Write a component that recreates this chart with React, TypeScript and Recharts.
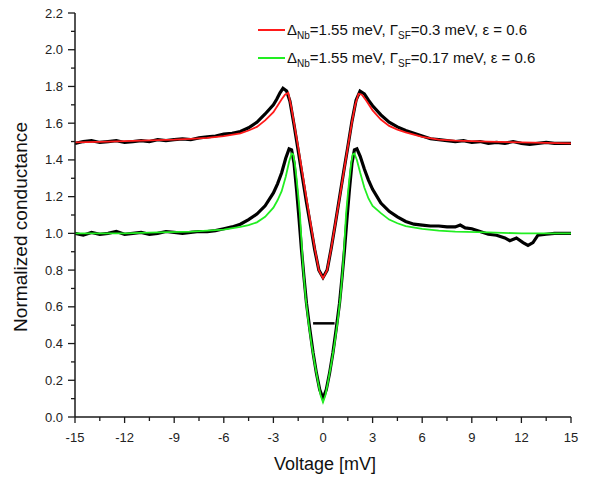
import React from "react";
import {
  Legend,
  Line,
  LineChart,
  ReferenceLine,
  XAxis,
  YAxis
} from "recharts";

// measured curves: [voltage mV, normalized conductance]
const upperData: [number, number][] = [
  [-15, 1.49], [-14.5, 1.5], [-14, 1.505], [-13.5, 1.495], [-13, 1.5], [-12.5, 1.505],
  [-12, 1.495], [-11.5, 1.5], [-11, 1.505], [-10.5, 1.5], [-10, 1.51], [-9.5, 1.505],
  [-9, 1.51], [-8.5, 1.515], [-8, 1.51], [-7.5, 1.52], [-7, 1.525], [-6.5, 1.53],
  [-6, 1.54], [-5.5, 1.545], [-5, 1.555], [-4.5, 1.575], [-4, 1.605], [-3.5, 1.65],
  [-3, 1.7], [-2.8, 1.73], [-2.6, 1.765], [-2.42, 1.79], [-2.2, 1.775], [-2.0, 1.72],
  [-1.75, 1.59], [-1.5, 1.45], [-1.25, 1.31], [-1.0, 1.17], [-0.75, 1.04], [-0.5, 0.91],
  [-0.25, 0.8], [0, 0.76], [0.25, 0.8], [0.5, 0.92], [0.75, 1.055], [1.0, 1.195],
  [1.25, 1.335], [1.5, 1.47], [1.75, 1.61], [2.0, 1.725], [2.24, 1.775], [2.5, 1.76],
  [2.75, 1.725], [3, 1.695], [3.5, 1.645], [4, 1.605], [4.5, 1.58], [5, 1.56],
  [5.5, 1.545], [6, 1.53], [6.5, 1.515], [7, 1.51], [7.5, 1.505], [8, 1.5],
  [8.5, 1.505], [9, 1.495], [9.5, 1.5], [10, 1.49], [10.5, 1.495], [11, 1.49],
  [11.5, 1.5], [12, 1.49], [12.5, 1.485], [13, 1.49], [13.5, 1.495], [14, 1.49],
  [14.5, 1.49], [15, 1.49]
];

const upperFit: [number, number][] = [
  [-15, 1.495], [-13, 1.5], [-11, 1.505], [-9, 1.51], [-8, 1.515], [-7, 1.52],
  [-6, 1.53], [-5, 1.545], [-4.5, 1.56], [-4, 1.58], [-3.5, 1.615], [-3, 1.66],
  [-2.75, 1.695], [-2.5, 1.73], [-2.3, 1.755], [-2.1, 1.765], [-1.9, 1.68], [-1.75, 1.6],
  [-1.5, 1.47], [-1.25, 1.33], [-1.0, 1.19], [-0.75, 1.055], [-0.5, 0.92], [-0.25, 0.8],
  [0, 0.755], [0.25, 0.8], [0.5, 0.92], [0.75, 1.055], [1.0, 1.19], [1.25, 1.33],
  [1.5, 1.47], [1.75, 1.605], [1.95, 1.7], [2.15, 1.76], [2.35, 1.755], [2.6, 1.725],
  [3, 1.67], [3.5, 1.62], [4, 1.585], [4.5, 1.565], [5, 1.55], [6, 1.525],
  [7, 1.51], [8, 1.505], [10, 1.5], [12, 1.495], [15, 1.49]
];

const lowerData: [number, number][] = [
  [-15, 1.0], [-14.5, 0.99], [-14, 1.005], [-13.5, 0.995], [-13, 1.0], [-12.5, 1.01],
  [-12, 0.995], [-11.5, 1.0], [-11, 1.005], [-10.5, 0.995], [-10, 1.0], [-9.5, 1.01],
  [-9, 1.005], [-8.5, 1.0], [-8, 1.005], [-7.5, 1.01], [-7, 1.01], [-6.5, 1.015],
  [-6, 1.025], [-5.5, 1.035], [-5, 1.05], [-4.5, 1.075], [-4, 1.105], [-3.5, 1.15],
  [-3, 1.22], [-2.75, 1.27], [-2.5, 1.33], [-2.25, 1.41], [-2.05, 1.46], [-1.9, 1.455],
  [-1.75, 1.38], [-1.6, 1.24], [-1.45, 1.08], [-1.3, 0.91], [-1.15, 0.76], [-1.0, 0.62],
  [-0.8, 0.48], [-0.6, 0.35], [-0.4, 0.24], [-0.2, 0.15], [0, 0.1], [0.2, 0.15],
  [0.4, 0.24], [0.6, 0.35], [0.8, 0.48], [1.0, 0.62], [1.15, 0.76], [1.3, 0.91],
  [1.45, 1.08], [1.6, 1.24], [1.75, 1.38], [1.9, 1.455], [2.05, 1.46], [2.25, 1.42],
  [2.5, 1.35], [2.75, 1.29], [3, 1.24], [3.5, 1.165], [4, 1.12], [4.5, 1.09],
  [5, 1.065], [5.5, 1.05], [6, 1.045], [6.5, 1.04], [7, 1.04], [7.5, 1.035],
  [8, 1.035], [8.3, 1.045], [8.6, 1.03], [9, 1.025], [9.5, 1.01], [10, 0.995],
  [10.5, 0.99], [11, 0.975], [11.3, 0.96], [11.7, 0.975], [12.1, 0.95], [12.4, 0.935],
  [12.7, 0.95], [13, 0.99], [13.5, 0.995], [14, 1.0], [14.5, 1.0], [15, 1.0]
];

const lowerFit: [number, number][] = [
  [-15, 1.0], [-12, 1.0], [-10, 1.005], [-8, 1.01], [-7, 1.015], [-6, 1.02],
  [-5, 1.035], [-4.5, 1.045], [-4, 1.06], [-3.5, 1.09], [-3, 1.14], [-2.75, 1.18],
  [-2.5, 1.23], [-2.25, 1.31], [-2.05, 1.39], [-1.9, 1.435], [-1.8, 1.43], [-1.7, 1.38],
  [-1.6, 1.3], [-1.5, 1.21], [-1.4, 1.11], [-1.3, 0.96], [-1.2, 0.81], [-1.05, 0.65],
  [-0.9, 0.53], [-0.7, 0.4], [-0.5, 0.29], [-0.3, 0.19], [-0.15, 0.12], [0, 0.08],
  [0.15, 0.12], [0.3, 0.19], [0.5, 0.29], [0.7, 0.4], [0.9, 0.53], [1.05, 0.65],
  [1.2, 0.81], [1.3, 0.96], [1.4, 1.11], [1.5, 1.21], [1.6, 1.3], [1.7, 1.38],
  [1.8, 1.43], [1.9, 1.435], [2.05, 1.4], [2.25, 1.33], [2.5, 1.25], [2.75, 1.19],
  [3, 1.15], [3.5, 1.11], [4, 1.075], [4.5, 1.055], [5, 1.04], [6, 1.025],
  [7, 1.015], [8, 1.01], [10, 1.005], [12, 1.0], [15, 1.0]
];

const offsetMark: [number, number][] = [[-0.6, 0.51], [0.7, 0.51]];

const xTicks = [-15, -12, -9, -6, -3, 0, 3, 6, 9, 12, 15];
const xMinorTicks = [-13.5, -10.5, -7.5, -4.5, -1.5, 1.5, 4.5, 7.5, 10.5, 13.5];
const yTicks = [0, 0.2, 0.4, 0.6, 0.8, 1.0, 1.2, 1.4, 1.6, 1.8, 2.0, 2.2];
const yMinorTicks = [0.1, 0.3, 0.5, 0.7, 0.9, 1.1, 1.3, 1.5, 1.7, 1.9, 2.1];

const legendRows = [
  { color: "#ff1a1a", gamma: "0.3" },
  { color: "#22ee22", gamma: "0.17" }
];

const toPoints = (rows: [number, number][]) => rows.map(([v, g]) => ({ v, g }));

const font = "'Liberation Sans', Arial, sans-serif";
const ink = "#1a1a1a";

function XTick(props: any) {
  const { x, y, payload } = props;
  const major = xTicks.includes(payload.value);
  return (
    <g>
      <line x1={x} x2={x} y1={y} y2={y + (major ? 6 : 4)} stroke={ink} strokeWidth={1.3} />
      {major && (
        <text x={x} y={y + 25} textAnchor="middle" fontSize={13} fontFamily={font} fill="#222">
          {payload.value}
        </text>
      )}
    </g>
  );
}

function YTick(props: any) {
  const { x, y, payload } = props;
  const major = yTicks.some((t) => Math.abs(t - payload.value) < 1e-6);
  return (
    <g>
      <line x1={x} x2={x - (major ? 7 : 4)} y1={y} y2={y} stroke={ink} strokeWidth={1.3} />
      {major && (
        <text x={x - 12} y={y + 4.5} textAnchor="end" fontSize={13} fontFamily={font} fill="#222">
          {payload.value.toFixed(1)}
        </text>
      )}
    </g>
  );
}

function FitLegend() {
  return (
    <div style={{ fontFamily: font, fontSize: 15, color: "#111", lineHeight: "28px" }}>
      {legendRows.map((r) => (
        <div key={r.gamma} style={{ display: "flex", alignItems: "center", height: 28, whiteSpace: "nowrap" }}>
          <span style={{ display: "inline-block", width: 27, height: 2, background: r.color, marginRight: 2 }} />
          <span>
            Δ<sub style={{ fontSize: 10, lineHeight: 0 }}>Nb</sub>=1.55 meV, Γ<sub style={{ fontSize: 10, lineHeight: 0 }}>SF</sub>={r.gamma} meV, ε = 0.6
          </span>
        </div>
      ))}
    </div>
  );
}

export default function App() {
  return (
    <div style={{ position: "absolute", left: 0, top: 0, background: "#fff" }}>
      <LineChart width={592} height={477} margin={{ top: 13, right: 21, bottom: 6, left: 20 }}>
        <XAxis
          type="number"
          dataKey="v"
          domain={[-15, 15]}
          ticks={[...xTicks, ...xMinorTicks].sort((a, b) => a - b)}
          interval={0}
          tick={<XTick />}
          tickSize={0}
          tickMargin={0}
          tickLine={false}
          axisLine={{ stroke: ink, strokeWidth: 1.5 }}
          height={54}
          allowDataOverflow
          label={() => (
            <text x={325} y={470} textAnchor="middle" fontSize={18} fontFamily={font} fill="#111">
              Voltage [mV]
            </text>
          )}
        />
        <YAxis
          type="number"
          domain={[0, 2.2]}
          ticks={[...yTicks, ...yMinorTicks].sort((a, b) => a - b)}
          interval={0}
          tick={<YTick />}
          tickSize={0}
          tickMargin={0}
          tickLine={false}
          axisLine={{ stroke: ink, strokeWidth: 1.5 }}
          width={55}
          allowDataOverflow
          label={() => (
            <text
              x={27}
              y={227}
              transform="rotate(-90 27 227)"
              textAnchor="middle"
              fontSize={18}
              fontFamily={font}
              fill="#111"
              textLength={210}
              lengthAdjust="spacingAndGlyphs"
            >
              Normalized conductance
            </text>
          )}
        />
        <Legend
          layout="vertical"
          align="center"
          verticalAlign="middle"
          content={() => <FitLegend />}
          wrapperStyle={{ left: 258, top: 16, width: 330, height: 56 }}
        />
        <Line data={toPoints(upperData)} dataKey="g" stroke="#000" strokeWidth={3.2} dot={false} isAnimationActive={false} legendType="none" />
        <Line data={toPoints(lowerData)} dataKey="g" stroke="#000" strokeWidth={3.2} dot={false} isAnimationActive={false} legendType="none" />
        <Line data={toPoints(upperFit)} dataKey="g" stroke="#ff1a1a" strokeWidth={1.8} dot={false} isAnimationActive={false} />
        <Line data={toPoints(lowerFit)} dataKey="g" stroke="#22ee22" strokeWidth={1.8} dot={false} isAnimationActive={false} />
        <ReferenceLine
          segment={offsetMark.map(([v, g]) => ({ x: v, y: g }))}
          stroke="#000"
          strokeWidth={2.5}
        />
      </LineChart>
    </div>
  );
}
